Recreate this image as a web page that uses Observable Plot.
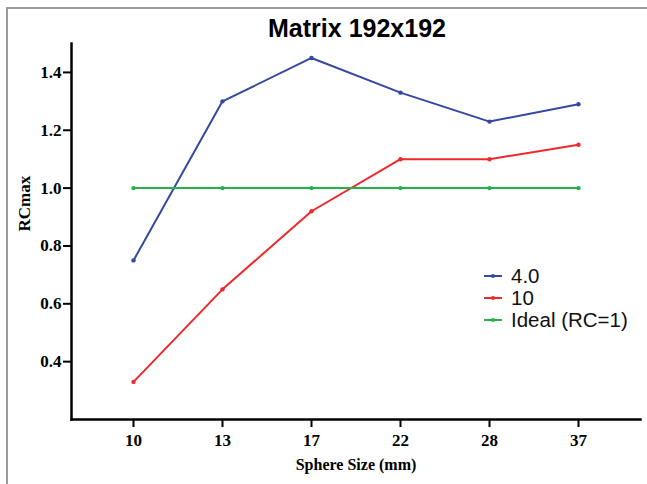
<!DOCTYPE html>
<html>
<head>
<meta charset="utf-8">
<script src="https://cdn.jsdelivr.net/npm/d3@7"></script>
<script src="https://cdn.jsdelivr.net/npm/@observablehq/plot@0.6"></script>
<style>
  html, body { margin: 0; padding: 0; background: #fff; }
  #wrap { position: relative; width: 647px; height: 484px; overflow: hidden; }
  #frame { position: absolute; left: 6px; top: 7px; width: 700px; height: 500px;
           border-left: 2px solid #9a9a9a; border-top: 2px solid #9a9a9a; }
  #title { position: absolute; left: 0; width: 714px; top: 14px; text-align: center;
           font-family: "Liberation Sans", Arial, sans-serif; font-weight: bold; font-size: 25px; color: #000; }
  #legend { position: absolute; left: 484px; top: 265px; font-family: "Liberation Sans", Arial, sans-serif;
            font-size: 20.5px; color: #111; }
  .row { display: flex; align-items: center; height: 22px; }
  .row svg { margin-right: 9px; }
</style>
</head>
<body>
<div id="wrap">
  <div id="frame"></div>
  <div id="chart"></div>
  <div id="title">Matrix 192x192</div>
  <div id="legend"></div>
</div>
<script>
const sizes = ["10", "13", "17", "22", "28", "37"];
const series40 = [0.75, 1.30, 1.45, 1.33, 1.23, 1.29];
const series10 = [0.33, 0.65, 0.92, 1.10, 1.10, 1.15];
const seriesIdeal = [1.0, 1.0, 1.0, 1.0, 1.0, 1.0];
const seriesNames = ["4.0", "10", "Ideal (RC=1)"];
const seriesColors = ["#34499f", "#f0282a", "#25b248"];
const yTicks = [0.4, 0.6, 0.8, 1.0, 1.2, 1.4];

const allSeries = [series40, series10, seriesIdeal];
const data = [];
allSeries.forEach((vals, si) => vals.forEach((v, i) => data.push({size: sizes[i], value: v, series: seriesNames[si]})));

const serif = "'Liberation Serif', 'Times New Roman', serif";

const plot = Plot.plot({
  width: 647,
  height: 484,
  marginLeft: 71,
  marginRight: 7,
  marginTop: 43,
  marginBottom: 65,
  style: {background: "transparent", overflow: "visible"},
  x: {type: "point", domain: sizes, padding: 0.67},
  y: {domain: [0.2, 1.5]},
  color: {domain: seriesNames, range: seriesColors},
  marks: [
    Plot.axisY({ticks: yTicks, tickFormat: d3.format(".1f"), tickSize: 8, tickPadding: 2, strokeWidth: 2,
      fontFamily: serif, fontWeight: "bold", fontSize: 17, fill: "#000", label: null}),
    Plot.axisX({tickSize: 8, tickPadding: 6, strokeWidth: 2, fontFamily: serif, fontWeight: "bold",
      fontSize: 17, fill: "#000", label: null}),
    Plot.text(["RCmax"], {frameAnchor: "left", dx: -42, rotate: -90, fontFamily: serif, fontWeight: "bold",
      fontSize: 17, fill: "#000", lineAnchor: "bottom"}),
    Plot.text(["Sphere Size (mm)"], {frameAnchor: "bottom", dy: 50, fontFamily: serif, fontWeight: "bold",
      fontSize: 16, fill: "#000"}),
    Plot.line(data, {x: "size", y: "value", z: "series", stroke: "series", strokeWidth: 2}),
    Plot.dot(data, {x: "size", y: "value", fill: "series", r: 2.2}),
    Plot.frame({anchor: "left", strokeWidth: 2.5, stroke: "#000"}),
    Plot.frame({anchor: "bottom", strokeWidth: 2.5, stroke: "#000"})
  ]
});
document.getElementById("chart").appendChild(plot);

const legend = document.getElementById("legend");
seriesNames.forEach((name, i) => {
  const row = document.createElement("div");
  row.className = "row";
  row.innerHTML = `<svg width="18" height="8"><line x1="0" y1="4" x2="18" y2="4" stroke="${seriesColors[i]}" stroke-width="2"/><circle cx="9" cy="4" r="2" fill="${seriesColors[i]}"/></svg><span>${name}</span>`;
  legend.appendChild(row);
});
</script>
</body>
</html>
